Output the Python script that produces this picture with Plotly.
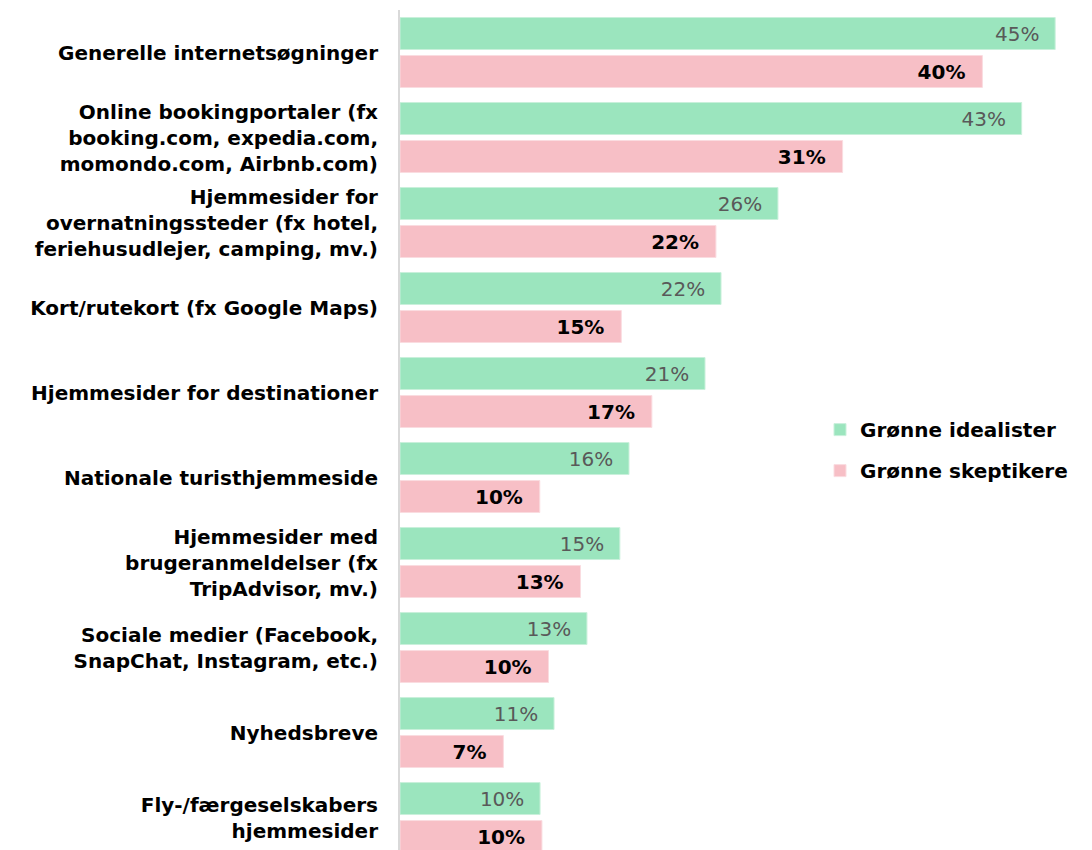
import plotly.graph_objects as go

categories = [
    'Generelle internetsøgninger',
    'Online bookingportaler (fx<br>booking.com, expedia.com,<br>momondo.com, Airbnb.com)',
    'Hjemmesider for<br>overnatningssteder (fx hotel,<br>feriehusudlejer, camping, mv.)',
    'Kort/rutekort (fx Google Maps)',
    'Hjemmesider for destinationer',
    'Nationale turisthjemmeside',
    'Hjemmesider med<br>brugeranmeldelser (fx<br>TripAdvisor, mv.)',
    'Sociale medier (Facebook,<br>SnapChat, Instagram, etc.)',
    'Nyhedsbreve',
    'Fly-/færgeselskabers<br>hjemmesider',
]

idealister = [45.0, 42.7, 25.96, 22.05, 20.95, 15.73, 15.1, 12.84, 10.58, 9.62]
idealister_labels = [45, 43, 26, 22, 21, 16, 15, 13, 11, 10]

skeptikere = [40.0, 30.4, 21.7, 15.2, 17.3, 9.6, 12.4, 10.2, 7.1, 9.75]
skeptikere_labels = [40, 31, 22, 15, 17, 10, 13, 10, 7, 10]

FONT = 'DejaVu Sans'
PAD = '&nbsp;' * 2

fig = go.Figure([
    go.Bar(
        name='Grønne idealister',
        legendgroup='idealister',
        y=categories,
        x=idealister,
        orientation='h',
        marker=dict(color='#9BE5BE', line=dict(color='#C9F0DB', width=1)),
        text=[f'{v}%{PAD}' for v in idealister_labels],
        textposition='inside',
        insidetextanchor='end',
        textfont=dict(family=FONT, size=20, color='#595959', weight=400),
        cliponaxis=False,
    ),
    go.Bar(
        name='Grønne skeptikere',
        legendgroup='skeptikere',
        y=categories,
        x=skeptikere,
        orientation='h',
        marker=dict(color='#F7BFC6', line=dict(color='#FADCE0', width=1)),
        text=[f'{v}%{PAD}' for v in skeptikere_labels],
        textposition='inside',
        insidetextanchor='end',
        textfont=dict(family=FONT, size=20, color='#000000', weight=700),
        cliponaxis=False,
    ),
])

fig.update_layout(
    width=1092,
    height=850,
    margin=dict(l=392, r=0, t=2, b=0),
    paper_bgcolor='white',
    plot_bgcolor='white',
    barmode='group',
    bargap=0.106,
    bargroupgap=0.158,
    font=dict(family=FONT, size=20, color='#000000', weight=700),
    uniformtext=dict(minsize=20, mode='show'),
    legend=dict(
        x=0.60, y=0.481, xanchor='left', yanchor='middle',
        font=dict(family=FONT, size=20, color='#000000', weight=700),
        itemwidth=30, tracegroupgap=12, bgcolor='rgba(0,0,0,0)',
    ),
    xaxis=dict(
        range=[0, 48.08],
        showticklabels=False, showgrid=False, zeroline=False, showline=False,
    ),
    yaxis=dict(
        range=[9.476, -0.5],
        showgrid=False, zeroline=False,
        showline=True, linecolor='#D9D9D9', linewidth=2,
        ticks='', ticklabelstandoff=16,
        tickfont=dict(family=FONT, size=20, color='#000000', weight=700),
    ),
)

fig.write_html('out.html')
